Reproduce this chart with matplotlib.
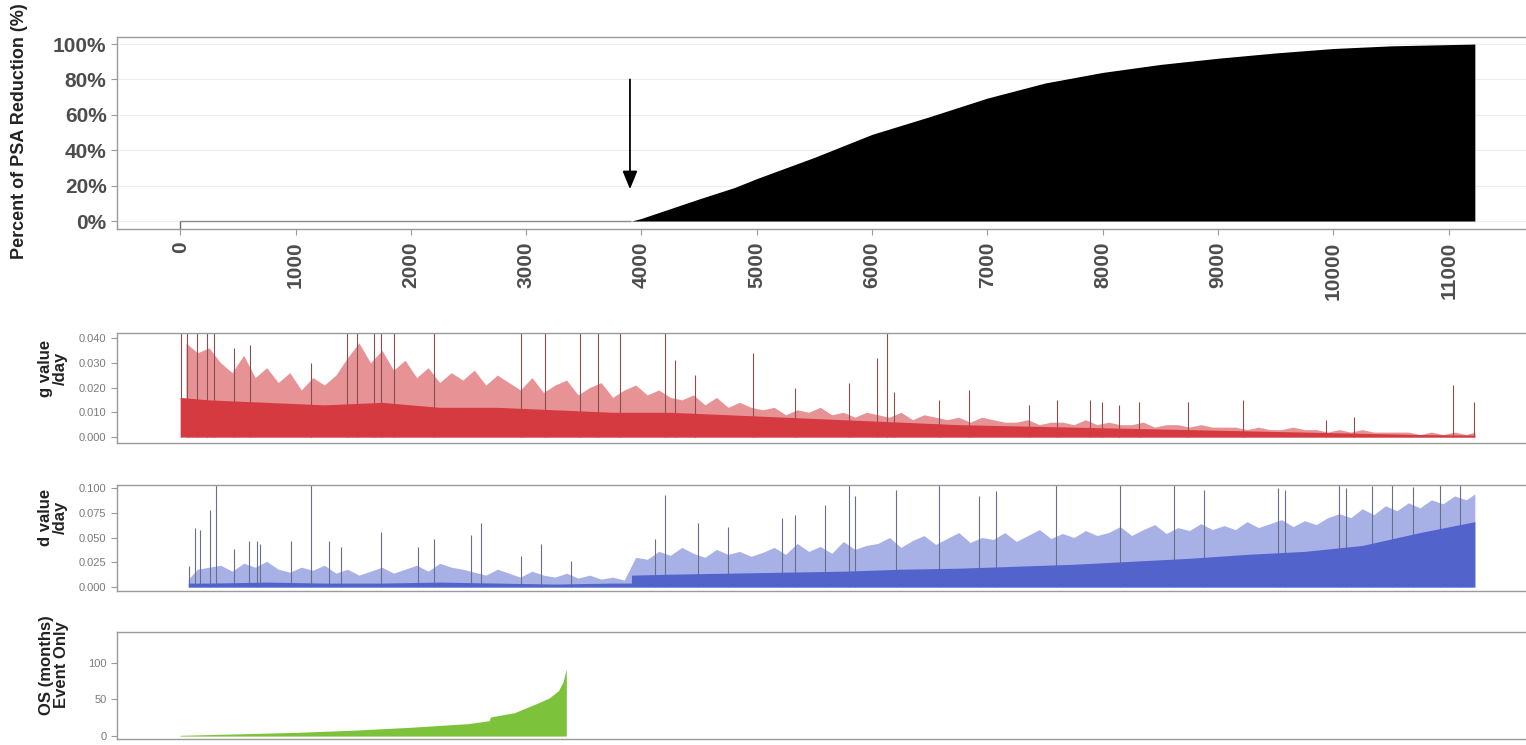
import numpy as np
import matplotlib
matplotlib.use("Agg")
import matplotlib.pyplot as plt
from matplotlib.ticker import FuncFormatter

plt.rcParams['font.family'] = ['Liberation Sans', 'DejaVu Sans']

# ---------------- data ----------------
n_patients = 11226

# PSA reduction waterfall (sorted), percent
psa_pos = [3913, 4000, 4500, 4809, 5000, 5500, 6000, 6500, 7000, 7500, 8000,
           8500, 9000, 9500, 10000, 10500, 11000, 11226]
psa_val = [0, 1.5, 12.5, 19, 24, 36, 49, 59, 69.5, 78, 84,
           88.5, 92, 95, 97.5, 99, 99.7, 100]
psa_first_val = -4.5
arrow_pos = 3900
arrow_from = 80
arrow_to = 18

# g value per day: solid core level at block centres
g_core_pos = [0, 250, 750, 1250, 1750, 2250, 2750, 3250, 3750, 4250, 4750, 5250,
              5750, 6250, 6750, 7250, 7750, 8250, 8750, 9250, 9750, 10250, 10750, 11226]
g_core_val = [0.016, 0.015, 0.014, 0.013, 0.014, 0.012, 0.012, 0.011, 0.010, 0.010, 0.009,
              0.008, 0.007, 0.006, 0.005, 0.0045, 0.004, 0.0035, 0.003, 0.0025,
              0.002, 0.0015, 0.001, 0.0008]
# g value upper fringe every 100 patients
g_fringe_val = [
    0.038, 0.034, 0.036,
    0.030, 0.026, 0.033, 0.024, 0.028,
    0.022, 0.026, 0.019, 0.024, 0.021, 0.025,
    0.032, 0.038, 0.030, 0.035, 0.027, 0.031,
    0.024, 0.028, 0.022, 0.026, 0.023, 0.027, 0.021, 0.025,
    0.022, 0.019, 0.024, 0.018, 0.021, 0.023, 0.017, 0.020, 0.022, 0.016, 0.019, 0.021, 0.017, 0.019, 0.016,
    0.015, 0.017, 0.013, 0.016, 0.012, 0.014, 0.012,
    0.011, 0.012, 0.009, 0.011, 0.010, 0.012, 0.009, 0.010, 0.008, 0.010,
    0.009, 0.008, 0.010, 0.007, 0.009, 0.008, 0.007, 0.008, 0.006, 0.008, 0.007, 0.006,
    0.006, 0.007, 0.005, 0.006, 0.006, 0.005, 0.007, 0.005, 0.006, 0.005, 0.005, 0.006, 0.004, 0.005,
    0.005, 0.004, 0.005, 0.004, 0.004,
    0.004, 0.003, 0.004, 0.003, 0.003, 0.004, 0.003, 0.003, 0.002, 0.003, 0.002, 0.003, 0.002,
    0.002, 0.002, 0.002, 0.001, 0.002, 0.001, 0.002, 0.001, 0.002]
g_spike_pos = [5, 62, 148, 235, 290, 464, 609, 1130, 1449, 1536, 1681, 1739, 1855, 2203,
               2957, 3159, 3464, 3623, 3812, 4203, 4290, 4464, 4971, 5333, 5797, 6043,
               6130, 6188, 6580, 6841, 7364, 7600, 7889, 7991, 8137, 8312, 8735, 9217,
               9932, 10179, 11040, 11215]
g_spike_val = [0.042, 0.042, 0.042, 0.042, 0.042, 0.036, 0.037, 0.030, 0.042, 0.042, 0.042,
               0.042, 0.042, 0.042, 0.042, 0.042, 0.042, 0.042, 0.042, 0.042, 0.031, 0.025,
               0.034, 0.020, 0.022, 0.032, 0.042, 0.018, 0.015, 0.019, 0.013, 0.015, 0.015,
               0.014, 0.013, 0.014, 0.014, 0.015, 0.007, 0.008, 0.021, 0.014]

# d value per day
d_core_pos = [70, 250, 750, 1250, 1750, 2250, 2750, 3250, 3750, 3912, 3914, 4250, 4750, 5250,
              5750, 6250, 6750, 7250, 7750, 8250, 8750, 9250, 9750, 10250, 10750, 11226]
d_core_val = [0.004, 0.004, 0.005, 0.004, 0.004, 0.005, 0.004, 0.003, 0.004, 0.004, 0.012,
              0.013, 0.014, 0.015, 0.016, 0.018, 0.019, 0.021, 0.023, 0.026, 0.029, 0.033,
              0.036, 0.042, 0.055, 0.066]
d_fringe_val = [
    0.008, 0.018, 0.020, 0.022, 0.016, 0.024, 0.020, 0.026, 0.018, 0.015,
    0.020, 0.017, 0.022, 0.014, 0.018, 0.012, 0.016, 0.020, 0.014, 0.018,
    0.022, 0.016, 0.024, 0.020, 0.018, 0.015, 0.012, 0.018, 0.014, 0.010,
    0.016, 0.012, 0.010, 0.014, 0.009, 0.012, 0.008, 0.010, 0.007,
    0.030, 0.028, 0.036, 0.032, 0.040, 0.034, 0.030, 0.038, 0.033, 0.036, 0.031,
    0.035, 0.040, 0.033, 0.044, 0.036, 0.041, 0.034, 0.046, 0.038, 0.042,
    0.044, 0.050, 0.040, 0.047, 0.052, 0.043, 0.049, 0.055, 0.045, 0.050,
    0.048, 0.055, 0.046, 0.052, 0.058, 0.049, 0.054, 0.050, 0.057, 0.052,
    0.055, 0.061, 0.052, 0.058, 0.063, 0.054, 0.060, 0.057, 0.064, 0.058,
    0.062, 0.058, 0.066, 0.060, 0.064, 0.068, 0.061, 0.067, 0.063, 0.070,
    0.074, 0.070, 0.079, 0.073, 0.082, 0.077, 0.085, 0.080, 0.088, 0.084, 0.092, 0.088, 0.094]
d_spike_pos = [72, 130, 174, 261, 313, 464, 594, 667, 696, 957, 1130, 1290, 1391, 1739,
               2058, 2203, 2522, 2609, 2957, 3130, 3391, 4116, 4203, 4493, 4754, 5217,
               5333, 5594, 5797, 5855, 6203, 6580, 6928, 7072, 7597, 8151, 8617, 8880,
               9522, 9580, 10047, 10105, 10337, 10512, 10687, 10920, 11095]
d_spike_val = [0.021, 0.060, 0.058, 0.078, 0.104, 0.038, 0.046, 0.046, 0.043, 0.046,
               0.104, 0.046, 0.040, 0.056, 0.040, 0.048, 0.053, 0.065, 0.031, 0.043,
               0.026, 0.048, 0.093, 0.065, 0.061, 0.070, 0.073, 0.083, 0.104, 0.092,
               0.098, 0.104, 0.092, 0.097, 0.104, 0.104, 0.104, 0.098, 0.100, 0.098,
               0.104, 0.100, 0.102, 0.104, 0.101, 0.104, 0.103]

# overall survival (months), event patients only, sorted
os_pos = [0, 500, 1000, 1500, 2000, 2500, 2680, 2690, 2900, 3100, 3200, 3280, 3320, 3348]
os_val = [1, 3, 5, 8, 12, 17, 21, 26, 32, 45, 52, 62, 74, 92]

# ---------------- styling ----------------
W, H = 1526, 745
AX_LEFT, AX_RIGHT = 117, 1540
red = '#D43A40'
red_dark = '#8A4E50'
blue = '#5264CC'
blue_dark = '#6A6E8C'
green = '#7CC23A'
frame = '#9A9A9A'
tick_col = '#4D4D4D'

x_left, x_right = -548, 11791

fig = plt.figure(figsize=(W / 100, H / 100), dpi=100)


def panel(top_px, bottom_px):
    ax = fig.add_axes([AX_LEFT / W, 1 - bottom_px / H, (AX_RIGHT - AX_LEFT) / W,
                       (bottom_px - top_px) / H])
    ax.set_xlim(x_left, x_right)
    for s in ['top', 'bottom', 'left']:
        ax.spines[s].set_color(frame)
        ax.spines[s].set_linewidth(1.0)
    ax.spines['right'].set_visible(False)
    ax.tick_params(axis='y', colors=frame, length=4, width=0.8)
    return ax


def label_at(ax, text, x_px, y_px, top_px, bottom_px, size):
    ax.set_ylabel(text, fontsize=size, fontweight='bold', color='#222222',
                  linespacing=0.95, va='center', ha='center')
    ax.yaxis.set_label_coords((x_px - AX_LEFT) / (AX_RIGHT - AX_LEFT),
                              (bottom_px - y_px) / (bottom_px - top_px))


# ---- panel 1: PSA reduction ----
ax1 = panel(37, 229)
ax1.set_ylim(-4.5, 104)
ax1.set_yticks([0, 20, 40, 60, 80, 100])
ax1.yaxis.set_major_formatter(FuncFormatter(lambda v, p: f"{int(v)}%"))
for yv in [0, 20, 40, 60, 80, 100]:
    ax1.axhline(yv, color='#EDEDED', lw=0.8, zorder=0)
ax1.fill_between(psa_pos, psa_val, 0, color='black', lw=0, zorder=3)
ax1.hlines(0, 0, psa_pos[0], color='#8C8C8C', lw=1.0, zorder=2)
ax1.vlines(0, psa_first_val, 0, color='#6E6E6E', lw=1.0, zorder=2)
ax1.annotate('', xy=(arrow_pos, arrow_to), xytext=(arrow_pos, arrow_from),
             arrowprops=dict(arrowstyle='-|>,head_length=1.1,head_width=0.45',
                             color='black', lw=1.3, shrinkA=0, shrinkB=0), zorder=4)
ax1.set_xticks(np.arange(0, 11001, 1000))
ax1.tick_params(axis='x', colors=frame, length=4, width=0.8, pad=5)
for lab in ax1.get_xticklabels():
    lab.set_rotation(90)
    lab.set_fontsize(15)
    lab.set_fontweight('bold')
    lab.set_color(tick_col)
for lab in ax1.get_yticklabels():
    lab.set_fontsize(15)
    lab.set_fontweight('bold')
    lab.set_color(tick_col)
label_at(ax1, 'Percent of PSA Reduction (%)', 20, 131, 37, 229, 13)


def small_ticks(ax, ticks, labels):
    ax.set_xticks([])
    ax.set_yticks(ticks)
    ax.set_yticklabels(labels, fontsize=8, color='#7A7A7A')


# ---- panel 2: g value ----
ax2 = panel(333, 443)
ax2.set_ylim(-0.0024, 0.042)
small_ticks(ax2, [0, 0.01, 0.02, 0.03, 0.04], ['0.000', '0.010', '0.020', '0.030', '0.040'])
label_at(ax2, 'g value\n/day', 53, 368, 333, 443, 12)
g_fringe_x = np.clip(np.arange(len(g_fringe_val)) * 100 + 50, 0, n_patients)
ax2.fill_between(g_fringe_x, g_fringe_val, 0, color=red, alpha=0.55, lw=0, zorder=2)
ax2.fill_between(g_core_pos, g_core_val, 0, color=red, lw=0, zorder=3)
ax2.vlines(g_spike_pos, 0, g_spike_val, color=red_dark, lw=0.8, zorder=2.5)

# ---- panel 3: d value ----
ax3 = panel(485, 591)
ax3.set_ylim(-0.004, 0.103)
small_ticks(ax3, [0, 0.025, 0.05, 0.075, 0.1], ['0.000', '0.025', '0.050', '0.075', '0.100'])
label_at(ax3, 'd value\n/day', 53, 517, 485, 591, 12)
d_fringe_x = np.clip(np.arange(len(d_fringe_val)) * 100 + 50, 70, n_patients)
ax3.fill_between(d_fringe_x, d_fringe_val, 0, color=blue, alpha=0.5, lw=0, zorder=2)
ax3.fill_between(d_core_pos, d_core_val, 0, color=blue, lw=0, zorder=3)
ax3.vlines(d_spike_pos, 0, d_spike_val, color=blue_dark, lw=0.8, zorder=2.5)

# ---- panel 4: overall survival ----
ax4 = panel(632, 739)
ax4.set_ylim(-4, 142)
small_ticks(ax4, [0, 50, 100], ['0', '50', '100'])
label_at(ax4, 'OS (months)\nEvent Only', 54, 665, 632, 739, 12)
ax4.fill_between(os_pos, os_val, 0, color=green, lw=0, zorder=3)

fig.savefig('out.png', dpi=100)
